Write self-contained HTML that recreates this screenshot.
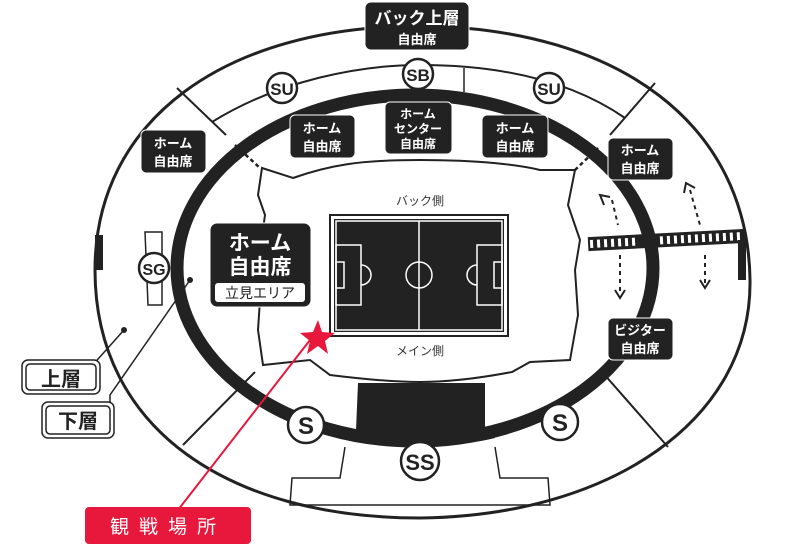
<!DOCTYPE html>
<html><head><meta charset="utf-8"><style>
html,body{margin:0;padding:0;background:#fff}
svg{display:block}
text{font-family:"Liberation Sans","Noto Sans CJK JP",sans-serif}
</style></head><body>
<svg width="800" height="549" viewBox="0 0 800 549" xmlns="http://www.w3.org/2000/svg">
<path d="M420,26 C620,28 748,125 750,280 C752,420 610,516 420,518 C230,518 95,430 95,270 C95,120 225,26 420,26 Z" fill="none" stroke="#222" stroke-width="3"/>
<path d="M212,122 C280,80 360,65 420,65 C500,65 570,80 625,118" fill="none" stroke="#222" stroke-width="2"/>
<ellipse cx="415" cy="268" rx="238" ry="173" fill="none" stroke="#222" stroke-width="13"/>
<line x1="177" y1="88" x2="226" y2="135" stroke="#222" stroke-width="2"/>
<line x1="655" y1="83" x2="610" y2="135" stroke="#222" stroke-width="2"/>
<line x1="183" y1="445" x2="255" y2="372" stroke="#222" stroke-width="2"/>
<line x1="668" y1="447" x2="603" y2="373" stroke="#222" stroke-width="2"/>
<line x1="464" y1="68" x2="464" y2="92" stroke="#222" stroke-width="1.5"/>
<line x1="235" y1="145" x2="260" y2="168" stroke="#222" stroke-width="2.5" stroke-dasharray="4,3"/>
<line x1="598" y1="148" x2="575" y2="170" stroke="#222" stroke-width="2.5" stroke-dasharray="4,3"/>
<path d="M262,168 L293,178 C330,165 360,160 420,160 C480,160 520,165 540,170 L575,170 L568,205 L580,240 L575,270 L578,315 L570,360 L530,362 L512,372 C470,380 440,382 420,382 C400,382 370,380 330,375 L310,360 L263,365 L258,330 L260,300 L258,265 L265,215 L258,195 Z" fill="none" stroke="#222" stroke-width="2"/>
<path d="M358,383 L485,383 L485,430 L495,438 C470,444 440,446 420,446 C400,446 370,444 350,440 L356,430 Z" fill="#222"/>
<path d="M345,447 L340,478 L292,478 L290,505 L550,505 L548,478 L500,478 L495,447" fill="none" stroke="#222" stroke-width="1.5"/>
<g transform="rotate(-3 667 240)">
<rect x="588" y="233" width="158" height="14" fill="#222"/>
<g fill="#fff">
<rect x="590" y="236" width="3" height="8"/><rect x="597" y="236" width="3" height="8"/><rect x="604" y="236" width="3" height="8"/><rect x="611" y="236" width="3" height="8"/><rect x="618" y="236" width="3" height="8"/><rect x="625" y="236" width="3" height="8"/><rect x="632" y="236" width="3" height="8"/><rect x="660" y="236" width="3" height="8"/><rect x="667" y="236" width="3" height="8"/><rect x="674" y="236" width="3" height="8"/><rect x="681" y="236" width="3" height="8"/><rect x="688" y="236" width="3" height="8"/><rect x="695" y="236" width="3" height="8"/><rect x="702" y="236" width="3" height="8"/><rect x="709" y="236" width="3" height="8"/><rect x="716" y="236" width="3" height="8"/><rect x="723" y="236" width="3" height="8"/><rect x="730" y="236" width="3" height="8"/><rect x="737" y="236" width="3" height="8"/>
</g></g>
<rect x="738" y="240" width="8" height="40" fill="#222"/>
<rect x="95" y="235" width="8" height="35" fill="#222"/>
<g stroke="#222" stroke-width="2" fill="none">
<line x1="612" y1="200" x2="618" y2="225" stroke-dasharray="4,4"/><path d="M604,205 L600,195 L610,197"/>
<line x1="690" y1="190" x2="700" y2="225" stroke-dasharray="4,4"/><path d="M684,193 L686,183 L695,188"/>
<line x1="620" y1="255" x2="620" y2="295" stroke-dasharray="4,4"/><path d="M615,290 L620,298 L625,290"/>
<line x1="705" y1="255" x2="705" y2="285" stroke-dasharray="4,4"/><path d="M700,280 L705,288 L710,280"/>
</g>
<rect x="330" y="215" width="178" height="121" fill="#fff" stroke="#222" stroke-width="2"/>
<rect x="334" y="219" width="170" height="113" fill="#222"/>
<g stroke="#fff" stroke-width="1.5" fill="none">
<rect x="336" y="221" width="166" height="109"/>
<line x1="419" y1="221" x2="419" y2="330"/>
<circle cx="419" cy="275" r="13"/>
<rect x="336" y="245" width="25" height="60"/>
<rect x="477" y="245" width="25" height="60"/>
<rect x="336" y="262" width="8" height="26"/><rect x="494" y="262" width="8" height="26"/>
<path d="M361,265 A10,10 0 0 1 361,285"/><path d="M477,265 A10,10 0 0 0 477,285"/>
</g>
<text x="420" y="205" font-size="12" text-anchor="middle" fill="#333">バック側</text>
<text x="420" y="355" font-size="12" text-anchor="middle" fill="#333">メイン側</text>
<g fill="#222" stroke="#fff" stroke-width="1">
<rect x="365" y="2" width="104" height="48" rx="6"/>
<rect x="290" y="115" width="65" height="43" rx="5"/>
<rect x="385" y="102" width="67" height="52" rx="5"/>
<rect x="482" y="115" width="66" height="43" rx="5"/>
<rect x="141" y="130" width="65" height="43" rx="5"/>
<rect x="608" y="138" width="65" height="42" rx="5"/>
<rect x="608" y="318" width="65" height="42" rx="5"/>
<rect x="210" y="223" width="101" height="84" rx="7"/>
</g>
<g fill="#fff" font-weight="bold" text-anchor="middle">
<text x="417" y="24" font-size="17">バック上層</text><text x="417" y="44" font-size="13">自由席</text>
<text x="322" y="133" font-size="13">ホーム</text><text x="322" y="151" font-size="13">自由席</text>
<text x="418" y="118" font-size="12">ホーム</text><text x="418" y="133" font-size="12">センター</text><text x="418" y="148" font-size="12">自由席</text>
<text x="515" y="133" font-size="13">ホーム</text><text x="515" y="151" font-size="13">自由席</text>
<text x="173" y="148" font-size="13">ホーム</text><text x="173" y="166" font-size="13">自由席</text>
<text x="640" y="155" font-size="13">ホーム</text><text x="640" y="173" font-size="13">自由席</text>
<text x="640" y="335" font-size="13">ビジター</text><text x="640" y="353" font-size="13">自由席</text>
<text x="260" y="250" font-size="21">ホーム</text><text x="260" y="274" font-size="21">自由席</text>
</g>
<rect x="215" y="283" width="90" height="19" rx="3" fill="#fff"/>
<text x="260" y="298" font-size="14" text-anchor="middle" fill="#222">立見エリア</text>
<path d="M145,232 L162,232 L162,305 L148,305 Z" fill="#fff" stroke="#222" stroke-width="1.5"/>
<g fill="#fff" stroke="#222" stroke-width="2.5">
<circle cx="418" cy="74" r="15"/><circle cx="282" cy="88" r="15"/><circle cx="549" cy="88" r="15"/>
<circle cx="154" cy="268" r="15"/><circle cx="306" cy="425" r="18"/><circle cx="560" cy="422" r="18"/><circle cx="420" cy="461" r="19"/>
</g>
<g fill="#222" font-weight="bold" text-anchor="middle">
<text x="418" y="81" font-size="17">SB</text><text x="282" y="95" font-size="17">SU</text><text x="549" y="95" font-size="17">SU</text>
<text x="154" y="275" font-size="16">SG</text><text x="306" y="434" font-size="24">S</text><text x="560" y="431" font-size="24">S</text><text x="420" y="470" font-size="22">SS</text>
</g>
<g stroke="#222" stroke-width="1.5" fill="none">
<path d="M124,330 L90,368"/><path d="M190,280 L110,395 L110,405"/>
</g>
<circle cx="124" cy="330" r="3" fill="#222"/><circle cx="190" cy="280" r="3" fill="#222"/>
<rect x="22" y="360" width="78" height="34" rx="6" fill="#fff" stroke="#222" stroke-width="1.5"/>
<rect x="26" y="364" width="70" height="26" rx="4" fill="none" stroke="#222" stroke-width="1.5"/>
<text x="61" y="386" font-size="20" font-weight="bold" text-anchor="middle" fill="#222">上層</text>
<rect x="42" y="402" width="72" height="36" rx="6" fill="#fff" stroke="#222" stroke-width="1.5"/>
<rect x="46" y="406" width="64" height="28" rx="4" fill="none" stroke="#222" stroke-width="1.5"/>
<text x="78" y="428" font-size="20" font-weight="bold" text-anchor="middle" fill="#222">下層</text>
<line x1="310" y1="340" x2="178" y2="510" stroke="#e8173c" stroke-width="2"/>
<polygon points="318,320 322,332 335,333 325,341 328,354 318,346 307,354 310,341 300,333 313,332" fill="#e8173c"/>
<rect x="85" y="507" width="166" height="37" rx="4" fill="#e8173c"/>
<text x="168" y="533" font-size="19" text-anchor="middle" fill="#fff" letter-spacing="10">観戦場所</text>
</svg>
</body></html>
